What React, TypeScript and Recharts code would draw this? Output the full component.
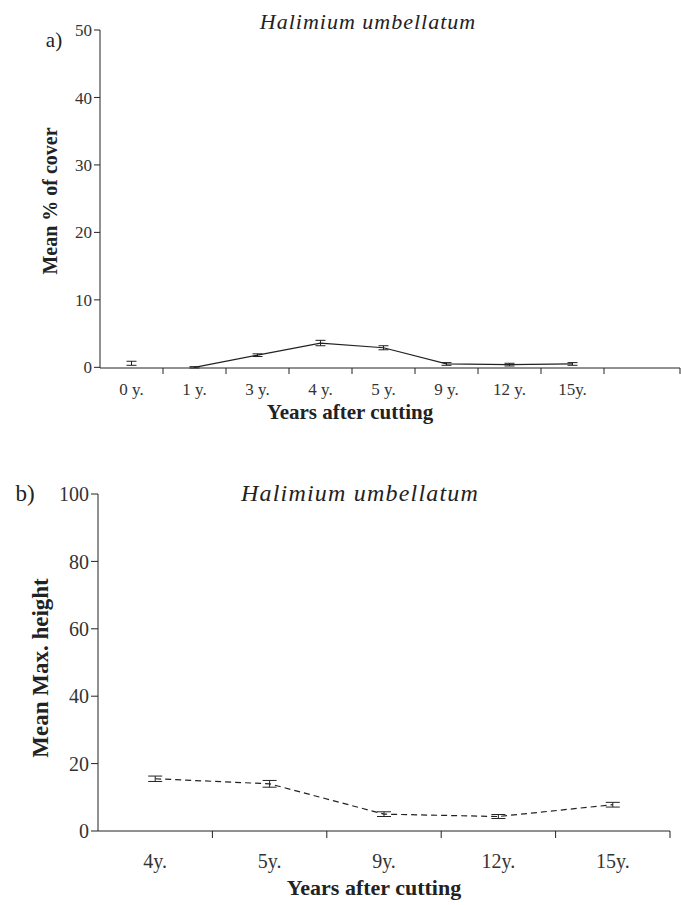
import React from 'react';
import { LineChart, Line, XAxis, YAxis, ErrorBar } from 'recharts';

// a) cover of Halimium umbellatum by years after cutting
const coverYears = ['0 y.', '1 y.', '3 y.', '4 y.', '5 y.', '9 y.', '12 y.', '15y.'];
const coverMean = [0.6, 0, 1.8, 3.6, 2.9, 0.5, 0.4, 0.5];
const coverErr = [0.3, 0.1, 0.2, 0.4, 0.3, 0.2, 0.2, 0.2];
const coverTicks = [0, 10, 20, 30, 40, 50];

// b) max. height
const heightYears = ['4y.', '5y.', '9y.', '12y.', '15y.'];
const heightMean = [15.5, 14, 5, 4.3, 7.8];
const heightErr = [0.8, 1, 0.7, 0.6, 0.7];
const heightTicks = [0, 20, 40, 60, 80, 100];

const serif = "'Liberation Serif', 'Times New Roman', serif";
const ink = '#222';

// 0 y. stands alone in the original, the line only starts at 1 y.
const coverData = coverYears.map((year, i) => ({
  year,
  mean: coverMean[i],
  err: coverErr[i],
  linked: i === 0 ? null : coverMean[i],
}));

const heightData = heightYears.map((year, i) => ({
  year,
  mean: heightMean[i],
  err: heightErr[i],
}));

// label under the band centre, tick mark on the band's right border (excel style).
// endPad: empty stretch of axis after the last band, which gets its own end tick
const makeCatTick = (fontSize: number, tickLen: number, gap: number, endPad = 0) => (props: any) => {
  const { x, y, payload, index, visibleTicksCount } = props;
  const axisY = y - tickLen - gap;
  const edge = x + (payload?.offset ?? 0);
  const last = index === visibleTicksCount - 1;
  return (
    <g>
      <line x1={edge} x2={edge} y1={axisY} y2={axisY + tickLen} stroke={ink} />
      {last && endPad > 0 && (
        <line x1={edge + endPad} x2={edge + endPad} y1={axisY} y2={axisY + tickLen} stroke={ink} />
      )}
      <text x={x} y={y} dy="0.71em" textAnchor="middle" fill="#333" fontSize={fontSize} fontFamily={serif}>
        {payload.value}
      </text>
    </g>
  );
};

const Caption = ({ x, y, size, children, italic = false, bold = false, rotate = false, spacing = 0 }: any) => (
  <div
    style={{
      position: 'absolute',
      left: x,
      top: y,
      transform: `translate(-50%, -50%)${rotate ? ' rotate(-90deg)' : ''}`,
      fontFamily: serif,
      fontSize: size,
      fontStyle: italic ? 'italic' : 'normal',
      fontWeight: bold ? 700 : 400,
      letterSpacing: spacing,
      whiteSpace: 'nowrap',
      lineHeight: 1,
      color: ink,
    }}
  >
    {children}
  </div>
);

export default function App() {
  return (
    <div style={{ position: 'absolute', left: 0, top: 0, width: 681, height: 905, background: '#fff' }}>
      <div style={{ position: 'absolute', left: 0, top: 0 }}>
        <LineChart width={681} height={442} data={coverData} margin={{ top: 30, right: 1, bottom: 0, left: 0 }}>
          <XAxis
            dataKey="year"
            scale="band"
            padding={{ left: 0, right: 76 }}
            height={74}
            axisLine={{ stroke: ink }}
            tickLine={false}
            tickSize={6}
            tickMargin={9}
            interval={0}
            tick={makeCatTick(17, 6, 9, 76)}
          />
          <YAxis
            type="number"
            domain={[0, 50]}
            ticks={coverTicks}
            width={100}
            axisLine={{ stroke: ink }}
            tickLine={{ stroke: ink }}
            tickSize={6}
            interval={0}
            tick={{ fill: '#333', fontSize: 17, fontFamily: serif }}
          />
          <Line dataKey="mean" stroke="none" dot={false} isAnimationActive={false}>
            <ErrorBar dataKey="err" width={5} stroke={ink} strokeWidth={1} direction="y" />
          </Line>
          <Line dataKey="linked" stroke={ink} strokeWidth={1.2} dot={false} isAnimationActive={false} />
        </LineChart>
      </div>

      <div style={{ position: 'absolute', left: 0, top: 450 }}>
        <LineChart width={681} height={455} data={heightData} margin={{ top: 44, right: 11, bottom: 0, left: 0 }}>
          <XAxis
            dataKey="year"
            scale="band"
            height={74}
            axisLine={{ stroke: ink }}
            tickLine={false}
            tickSize={7}
            tickMargin={16}
            interval={0}
            tick={makeCatTick(20, 7, 16)}
          />
          <YAxis
            type="number"
            domain={[0, 100]}
            ticks={heightTicks}
            width={98}
            axisLine={{ stroke: ink }}
            tickLine={{ stroke: ink }}
            tickSize={7}
            interval={0}
            tick={{ fill: '#333', fontSize: 20, fontFamily: serif }}
          />
          <Line dataKey="mean" stroke={ink} strokeWidth={1.2} strokeDasharray="6 4" dot={false} isAnimationActive={false}>
            <ErrorBar dataKey="err" width={7} stroke={ink} strokeWidth={1} direction="y" />
          </Line>
        </LineChart>
      </div>

      <Caption x={54} y={40} size={21}>a)</Caption>
      <Caption x={368} y={22} size={22} italic spacing={1}>Halimium umbellatum</Caption>
      <Caption x={50} y={201} size={20} bold rotate>Mean % of cover</Caption>
      <Caption x={350} y={412} size={21} bold>Years after cutting</Caption>

      <Caption x={25} y={493} size={23}>b)</Caption>
      <Caption x={360} y={493} size={24} italic spacing={1.2}>Halimium umbellatum</Caption>
      <Caption x={40} y={668} size={23} bold rotate>Mean Max. height</Caption>
      <Caption x={374} y={888} size={22} bold>Years after cutting</Caption>
    </div>
  );
}
